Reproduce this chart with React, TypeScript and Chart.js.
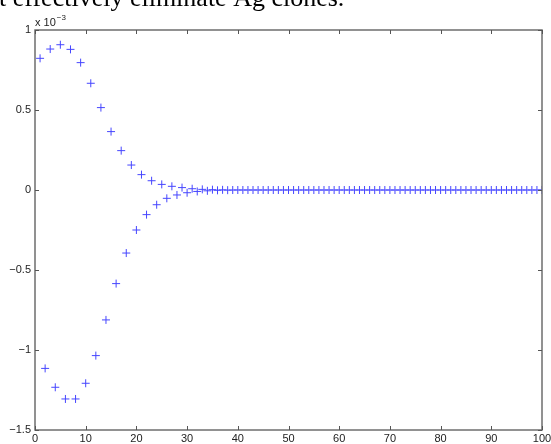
import React, { useEffect, useRef } from "react";
import { Chart, registerables } from "chart.js";

Chart.register(...registerables);

// Values in units of 1e-3
const topX: number[] = [1,3,5,7,9,11,13,15,17,19,21,23,25,27,29,31,33,35,37,39,41,43,45,47,49,51,53,55,57,59,61,63,65,67,69,71,73,75,77,79,81,83,85,87,89,91,93,95,97,99];
const topY: number[] = [0.823,0.881,0.908,0.879,0.796,0.667,0.515,0.365,0.246,0.156,0.096,0.058,0.035,0.023,0.015,0.008,0.004,0.002,0.001,0,0,0,0,0,0,0,0,0,0,0,0,0,0,0,0,0,0,0,0,0,0,0,0,0,0,0,0,0,0,0];
const botX: number[] = [2,4,6,8,10,12,14,16,18,20,22,24,26,28,30,32,34,36,38,40,42,44,46,48,50,52,54,56,58,60,62,64,66,68,70,72,74,76,78,80,82,84,86,88,90,92,94,96,98,100];
const botY: number[] = [-1.115,-1.233,-1.306,-1.306,-1.208,-1.035,-0.812,-0.585,-0.394,-0.25,-0.154,-0.092,-0.052,-0.031,-0.017,-0.009,-0.005,-0.002,-0.001,0,0,0,0,0,0,0,0,0,0,0,0,0,0,0,0,0,0,0,0,0,0,0,0,0,0,0,0,0,0,0];
const xTicks: number[] = [0,10,20,30,40,50,60,70,80,90,100];
const yTicks: number[] = [-1.5,-1,-0.5,0,0.5,1];
const headerText = "t effectively eliminate Ag clones.";

const fmt = (v: number) => (v < 0 ? "\u2212" + String(-v) : String(v));

const axesPlugin = {
  id: "matlabAxes",
  afterDraw(chart: any) {
    const ctx = chart.ctx;
    const { left, right, top, bottom } = chart.chartArea;
    const xs = chart.scales.x;
    const ys = chart.scales.y;
    ctx.save();
    // header text
    ctx.fillStyle = "#000";
    ctx.font = "26px 'Liberation Serif', serif";
    ctx.textAlign = "left";
    ctx.textBaseline = "alphabetic";
    ctx.fillText(headerText, -1, 6);
    // box
    ctx.strokeStyle = "#6e6e6e";
    ctx.lineWidth = 1.5;
    ctx.strokeRect(left, top, right - left, bottom - top);
    ctx.lineWidth = 1;
    ctx.strokeStyle = "#555";
    const tl = 4;
    ctx.beginPath();
    xTicks.forEach((t) => {
      const px = Math.round(xs.getPixelForValue(t)) + 0.5;
      ctx.moveTo(px, bottom);
      ctx.lineTo(px, bottom - tl);
      ctx.moveTo(px, top);
      ctx.lineTo(px, top + tl);
    });
    yTicks.forEach((t) => {
      const py = Math.round(ys.getPixelForValue(t)) + 0.5;
      ctx.moveTo(left, py);
      ctx.lineTo(left + tl, py);
      ctx.moveTo(right, py);
      ctx.lineTo(right - tl, py);
    });
    ctx.stroke();
    // labels
    ctx.fillStyle = "#222";
    ctx.font = "11px 'Liberation Sans', Arial, sans-serif";
    ctx.textAlign = "center";
    ctx.textBaseline = "top";
    xTicks.forEach((t) => {
      ctx.fillText(String(t), xs.getPixelForValue(t), bottom + 3);
    });
    ctx.textAlign = "right";
    ctx.textBaseline = "middle";
    yTicks.forEach((t) => {
      ctx.fillText(fmt(t), left - 4, ys.getPixelForValue(t));
    });
    // exponent label
    ctx.textAlign = "left";
    ctx.textBaseline = "alphabetic";
    ctx.font = "11px 'Liberation Sans', Arial, sans-serif";
    ctx.fillText("x 10", left, top - 4);
    const w = ctx.measureText("x 10").width;
    ctx.font = "8px 'Liberation Sans', Arial, sans-serif";
    ctx.fillText("\u22123", left + w + 1, top - 10);
    ctx.restore();
  },
};

export default function App() {
  const ref = useRef<HTMLCanvasElement | null>(null);
  useEffect(() => {
    if (!ref.current) return;
    const color = "rgb(70,70,255)";
    const chart = new Chart(ref.current, {
      type: "scatter",
      data: {
        datasets: [
          {
            data: topX.map((x, i) => ({ x, y: topY[i] })),
            pointStyle: "cross",
            pointRadius: 4,
            borderColor: color,
            backgroundColor: color,
            borderWidth: 1,
          },
          {
            data: botX.map((x, i) => ({ x, y: botY[i] })),
            pointStyle: "cross",
            pointRadius: 4,
            borderColor: color,
            backgroundColor: color,
            borderWidth: 1,
          },
        ],
      },
      options: {
        animation: false,
        responsive: false,
        maintainAspectRatio: false,
        layout: { padding: { left: 35, top: 30, right: 9, bottom: 14 } },
        plugins: { legend: { display: false }, tooltip: { enabled: false } },
        scales: {
          x: { type: "linear", min: 0, max: 100, display: false },
          y: { type: "linear", min: -1.5, max: 1, display: false },
        },
      },
      plugins: [axesPlugin],
    });
    return () => chart.destroy();
  }, []);
  return (
    <div style={{ position: "absolute", left: 0, top: 0, width: 551, height: 444, background: "#fff" }}>
      <canvas ref={ref} width={551} height={444} style={{ display: "block" }} />
    </div>
  );
}
